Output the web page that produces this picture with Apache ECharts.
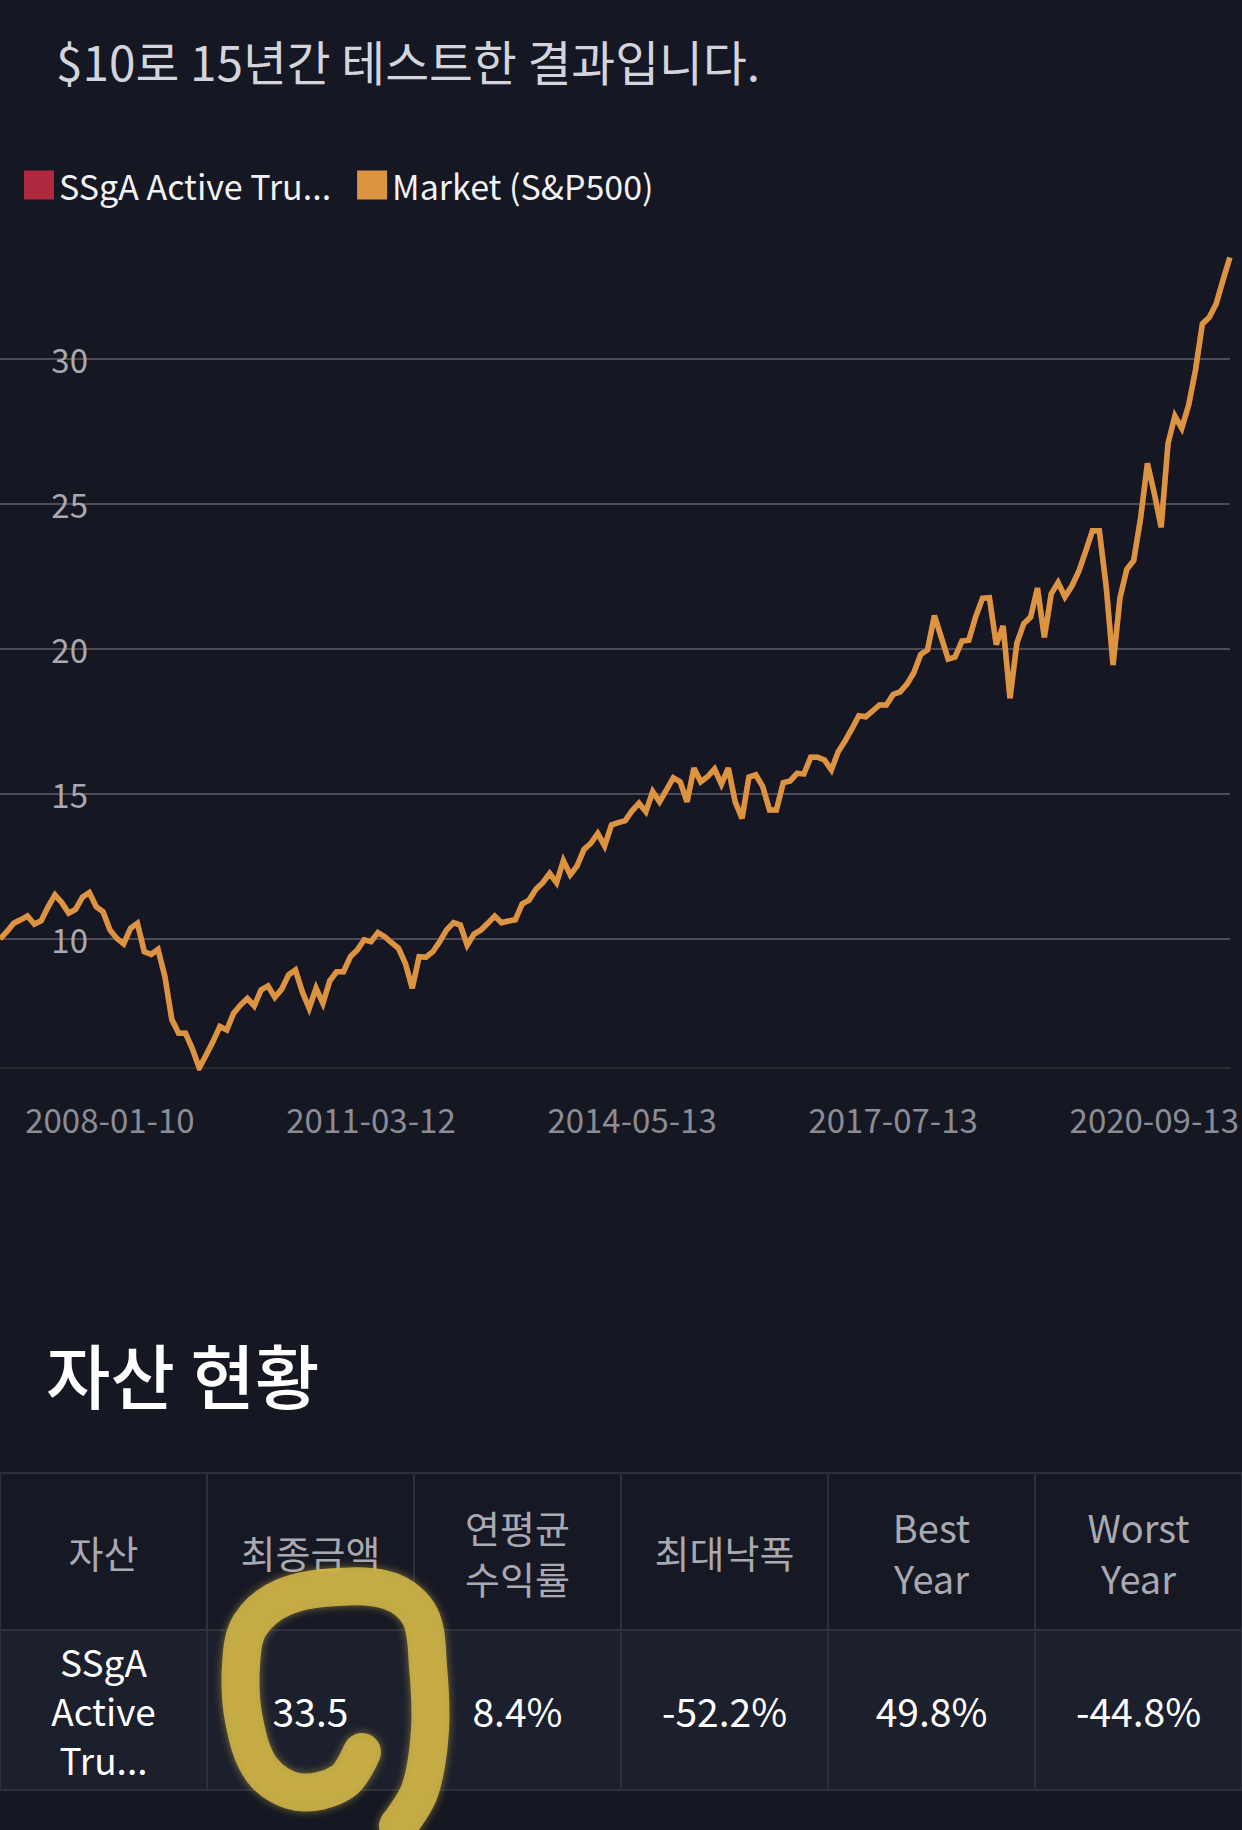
<!DOCTYPE html>
<html>
<head>
<meta charset="utf-8">
<script src="https://cdn.jsdelivr.net/npm/echarts@6/dist/echarts.min.js"></script>
<style>
  html, body { margin: 0; padding: 0; background: #151722; }
  #chart { width: 1242px; height: 1830px; }
</style>
</head>
<body>
<div id="chart"></div>
<script>
// ---------- data ----------
const titleText = '$10로 15년간 테스트한 결과입니다.';
const seriesNames = ['SSgA Active Trust', 'Market (S&P500)'];
const seriesColors = ['#b0293f', '#db9440'];

// monthly values, Sep 2006 .. Aug 2021
const marketValues = [
  10.0, 10.25, 10.54, 10.66, 10.79, 10.51, 10.63, 11.11, 11.52, 11.25,
  10.89, 11.02, 11.44, 11.60, 11.11, 10.94, 10.31, 10.02, 9.83, 10.37,
  10.54, 9.56, 9.47, 9.64, 8.70, 7.23, 6.75, 6.75, 6.21, 5.55,
  6.00, 6.46, 6.98, 6.86, 7.44, 7.72, 7.95, 7.69, 8.24, 8.38,
  7.99, 8.27, 8.76, 8.93, 8.18, 7.61, 8.30, 7.78, 8.56, 8.87,
  8.87, 9.39, 9.62, 9.97, 9.91, 10.22, 10.08, 9.87, 9.68, 9.16,
  8.30, 9.39, 9.37, 9.56, 9.91, 10.31, 10.56, 10.48, 9.79, 10.17,
  10.31, 10.54, 10.79, 10.56, 10.62, 10.66, 11.21, 11.34, 11.71, 11.94,
  12.26, 11.94, 12.70, 12.21, 12.52, 13.09, 13.30, 13.64, 13.21, 13.93,
  14.01, 14.08, 14.42, 14.68, 14.39, 15.08, 14.73, 15.14, 15.56, 15.42,
  14.73, 15.89, 15.42, 15.60, 15.86, 15.34, 15.89, 14.73, 14.16, 15.58,
  15.66, 15.26, 14.45, 14.45, 15.39, 15.45, 15.71, 15.69, 16.27, 16.27,
  16.17, 15.83, 16.46, 16.83, 17.25, 17.70, 17.66, 17.86, 18.07, 18.07,
  18.43, 18.52, 18.79, 19.18, 19.81, 19.97, 21.15, 20.40, 19.65, 19.72,
  20.27, 20.30, 21.11, 21.75, 21.77, 20.15, 20.79, 18.30, 20.20, 20.87,
  21.10, 22.10, 20.40, 21.90, 22.29, 21.80, 22.17, 22.67, 23.36, 24.08,
  24.08, 22.15, 19.45, 21.75, 22.75, 23.05, 24.50, 26.40, 25.37, 24.20,
  27.09, 28.03, 27.61, 28.41, 29.62, 31.21, 31.44, 31.90, 32.72, 33.50
];
// the fund line lies exactly under the market line in the picture
const ssgaValues = marketValues.slice();

const tickLabels = ['2008-01-10', '2011-03-12', '2014-05-13', '2017-07-13', '2020-09-13'];
const startYear = 2006, startMonth = 9;

const tableHeading = '자산 현황';
const tableHeaders = ['자산', '최종금액', '연평균\n수익률', '최대낙폭', 'Best\nYear', 'Worst\nYear'];
const tableRow = ['SSgA\nActive\nTru...', '33.5', '8.4%', '-52.2%', '49.8%', '-44.8%'];

// ---------- categories ----------
const categories = marketValues.map((_, i) => {
  const m0 = startMonth - 1 + i;
  const y = startYear + Math.floor(m0 / 12);
  const m = (m0 % 12) + 1;
  return y + '-' + String(m).padStart(2, '0') + '-13';
});
const tickIndex = new Set();
tickLabels.forEach(t => {
  const idx = categories.findIndex(c => c.slice(0, 7) === t.slice(0, 7));
  if (idx >= 0) { categories[idx] = t; tickIndex.add(idx); }
});

// ---------- chart ----------
const FONT = '"Noto Sans CJK KR", "Noto Sans", sans-serif';
const chart = echarts.init(document.getElementById('chart'), null, { renderer: 'svg' });

const W = 1242;
const colW = W / tableHeaders.length;
const tableTop = 1473, headH = 157, rowH = 160;
const graphics = [];

graphics.push({
  type: 'text', x: 56, y: 60, z: 10,
  style: { text: titleText, fontSize: 47.7, fontFamily: FONT, fill: '#d4d4de', verticalAlign: 'middle', align: 'left' }
});
graphics.push({
  type: 'text', x: 46, y: 1373, z: 10,
  style: { text: tableHeading, fontSize: 70, fontWeight: 500, fontFamily: FONT, fill: '#ffffff', verticalAlign: 'middle', align: 'left' }
});
tableHeaders.forEach((h, c) => {
  graphics.push({
    type: 'rect', z: 5,
    shape: { x: c * colW, y: tableTop, width: colW, height: headH },
    style: { fill: '#161824', stroke: '#2c2f3c', lineWidth: 2 }
  });
  graphics.push({
    type: 'rect', z: 5,
    shape: { x: c * colW, y: tableTop + headH, width: colW, height: rowH },
    style: { fill: '#1c1f2c', stroke: '#2c2f3c', lineWidth: 2 }
  });
  graphics.push({
    type: 'text', z: 6, x: c * colW + colW / 2, y: tableTop + headH / 2,
    style: { text: h, fontSize: 38, lineHeight: 51, fontFamily: FONT, fill: '#a9a9b1', align: 'center', verticalAlign: 'middle' }
  });
  graphics.push({
    type: 'text', z: 6, x: c * colW + colW / 2, y: tableTop + headH + rowH / 2,
    style: { text: tableRow[c], fontSize: c === 0 ? 37 : 39, lineHeight: 49, fontFamily: FONT, fill: '#ffffff', align: 'center', verticalAlign: 'middle' }
  });
});
// yellow hand-drawn marker around the final amount
graphics.push({
  type: 'polyline', z: 20,
  shape: {
    smooth: 0.35,
    points: [[362, 1752], [342, 1782], [298, 1792], [262, 1770], [244, 1720], [241, 1665],
             [250, 1625], [284, 1597], [338, 1587], [390, 1591], [420, 1616], [428, 1666],
             [430, 1730], [420, 1790], [398, 1826]]
  },
  style: { stroke: 'rgba(206,178,70,0.9)', lineWidth: 38, lineCap: 'round', lineJoin: 'round', fill: null,
           shadowBlur: 8, shadowColor: 'rgba(206,178,70,0.6)' }
});

const option = {
  backgroundColor: '#151722',
  animation: false,
  textStyle: { fontFamily: FONT },
  legend: {
    data: seriesNames,
    left: 19, top: 163,
    icon: 'rect', itemWidth: 30, itemHeight: 29, itemGap: 26,
    selectedMode: false,
    formatter: n => (n.length > 15 ? n.slice(0, 15) + '...' : n),
    textStyle: { color: '#f2f2f2', fontSize: 34, fontFamily: FONT }
  },
  grid: { left: 0, right: 0, top: 257.5, bottom: 762, containLabel: false },
  xAxis: {
    type: 'category', data: categories, boundaryGap: false,
    axisLine: { show: true, onZero: false, lineStyle: { color: '#2a2b31', width: 2 } },
    axisTick: { show: false },
    splitLine: { show: false },
    axisLabel: {
      interval: (idx) => tickIndex.has(idx),
      color: '#8c8c95', fontSize: 33, margin: 34, fontFamily: FONT
    }
  },
  yAxis: {
    type: 'value', min: 'dataMin', max: 'dataMax', splitNumber: 5,
    axisLine: { show: false }, axisTick: { show: false },
    axisLabel: {
      inside: true, align: 'right', margin: 88, color: '#a9a9af', fontSize: 33, fontFamily: FONT,
      showMinLabel: false, showMaxLabel: false
    },
    splitLine: { show: true, showMinLine: false, showMaxLine: false, lineStyle: { color: '#4a4c57', width: 2 } }
  },
  series: [
    {
      name: seriesNames[0], type: 'line', data: ssgaValues, symbol: 'none',
      itemStyle: { color: seriesColors[0] },
      lineStyle: { color: seriesColors[0], width: 5.5, join: 'miter', miterLimit: 3 }, z: 2
    },
    {
      name: seriesNames[1], type: 'line', data: marketValues, symbol: 'none',
      itemStyle: { color: seriesColors[1] },
      lineStyle: { color: seriesColors[1], width: 5.5, join: 'miter', miterLimit: 3 }, z: 3
    }
  ],
  graphic: graphics
};
chart.setOption(option);
</script>
</body>
</html>
